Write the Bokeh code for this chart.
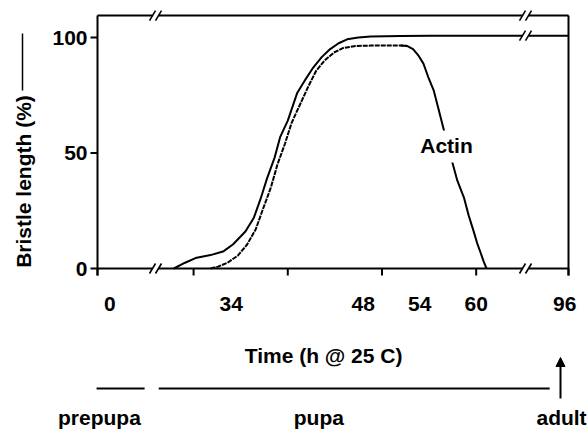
import numpy as np
from bokeh.plotting import figure
from bokeh.models import Arrow, NormalHead, Range1d
from bokeh.core.properties import value
from bokeh.embed import file_html
from bokeh.resources import INLINE

# ---------------- data (hours @ 25 C, % of final bristle length) ----------------
bristle_t = [27.9, 29.1, 30.2, 31.8, 33.2, 34.2, 35.5, 36.4, 37.1, 37.8, 38.6, 39.2,
             40.0, 41.0, 41.9, 42.7, 43.6, 44.5, 45.4, 46.3, 47.5, 48.8, 52.0, 55.2, 69.8]
bristle_v = [0, 2.5, 4.5, 5.8, 7.5, 10.5, 16, 22, 30, 39, 48, 57,
             64, 76, 82, 87, 91.5, 95, 97.5, 99.2, 100, 100.4, 100.7, 100.8, 100.8]

actin_t = [31.8, 32.6, 33.6, 34.7, 35.7, 36.6, 37.3, 38.2, 38.9, 39.7, 40.4, 41.3,
           42.2, 43.0, 43.9, 44.9, 45.9, 47.2, 48.8, 52.0, 52.7, 53.3, 53.9, 54.4,
           54.9, 55.5, 56.0, 56.5, 57.0, 57.5, 58.0, 58.7, 59.2, 59.7, 60.1, 60.5,
           60.8, 61.1]
actin_v = [0, 0.8, 2.5, 5.6, 10.5, 17, 25, 35, 45, 54, 63, 71,
           79, 85.5, 90, 93.5, 95.5, 96.3, 96.5, 96.5, 96.3, 95, 92, 88.7,
           83, 77, 69, 61, 53, 45.5, 38, 30.7, 23, 16.5, 11, 6.5,
           3, 0]

y_ticks = [0, 50, 100]
y_tick_labels = ["0", "50", "100"]
x_tick_labels = ["0", "34", "48", "54", "60", "96"]
x_tick_pos = [21.1, 34, 48, 54, 60, 69.4]
x_tick_marks = [19.8, 30, 40, 50, 60, 69.8]
stage_names = ["prepupa", "pupa", "adult"]
stage_pos = [20.0, 43.3, 69.06]
stage_spans = [(19.7, 24.8), (26.3, 67.8)]

# ---------------- layout constants ----------------
W, H = 587, 429
PXX = 9.42   # px per hour
PXY = 2.31   # px per percent
X0, X1 = 19.8, 69.8      # frame left / right (hours scale)
Y0, Y1 = 0.0, 109.5      # frame bottom / top (% scale)
LEFT_PX, BASE_PX = 97, 268
FONT = "Liberation Sans"
FS = "21px"

def hx(px):
    return X0 + (px - LEFT_PX) / PXX

def vy(py):
    return (BASE_PX - py) / PXY

p = figure(width=W, height=H,
           x_range=Range1d(hx(0), hx(W)), y_range=Range1d(vy(H), vy(0)),
           output_backend="svg", toolbar_location=None,
           x_axis_location=None, y_axis_location=None,
           min_border=0)
p.outline_line_color = None
p.grid.visible = False
p.background_fill_color = "white"
p.border_fill_color = "white"

txt = dict(text_font=value(FONT), text_font_size=FS, text_font_style="bold",
           text_color="black")

# frame (box) lines; left/right sides extend a tick length below the base line
tick_y = 7 / PXY
tick_x = 7 / PXX
p.segment(x0=[X0, X1, X0, X0], y0=[-tick_y, -tick_y, Y1, Y0],
          x1=[X0, X1, X1, X1], y1=[Y1, Y1, Y1, Y0],
          line_color="black", line_width=2)

# y ticks and labels
p.segment(x0=[X0 - tick_x] * len(y_ticks), y0=y_ticks,
          x1=[X0] * len(y_ticks), y1=y_ticks, line_color="black", line_width=2)
p.text(x=[X0 - tick_x - 3 / PXX] * len(y_ticks), y=y_ticks, text=y_tick_labels,
       text_align="right", text_baseline="middle", **txt)

# x tick marks and labels
p.segment(x0=x_tick_marks, y0=[0] * len(x_tick_marks),
          x1=x_tick_marks, y1=[-tick_y] * len(x_tick_marks),
          line_color="black", line_width=2)
p.text(x=x_tick_pos, y=[vy(303)] * len(x_tick_pos), text=x_tick_labels,
       text_align="center", text_baseline="middle", **txt)

# curves
p.line(bristle_t, bristle_v, line_color="black", line_width=2)
a_t = np.array(actin_t)
a_v = np.array(actin_v)
rise = a_t <= 52.7
fall = a_t >= 52.0
p.line(a_t[rise], a_v[rise], line_color="black", line_width=2, line_dash="5 1")
p.line(a_t[fall], a_v[fall], line_color="black", line_width=2)

# axis breaks "//"
def brk(cx, cy):
    gx = 3 / PXX
    sx, sy = 3 / PXX, 5 / PXY
    p.segment(x0=[cx - gx], y0=[cy], x1=[cx + gx], y1=[cy], line_color="white", line_width=5)
    p.segment(x0=[cx - gx - sx, cx + gx - sx], y0=[cy - sy, cy - sy],
              x1=[cx - gx + sx, cx + gx + sx], y1=[cy + sy, cy + sy],
              line_color="black", line_width=1.6)

for cx, cy in [(hx(155), Y1), (hx(155), Y0), (hx(525), Y1), (hx(525), 100.8), (hx(525), Y0)]:
    brk(cx, cy)

# curve label, breaking the curve where it sits
p.rect(x=[hx(447)], y=[vy(146)], width=56, height=32, width_units="screen",
       height_units="screen", fill_color="white", line_color=None)
p.text(x=[hx(446)], y=[vy(145)], text=["Actin"], text_align="center",
       text_baseline="middle", **txt)

# y axis title with its line sample
p.text(x=[hx(23)], y=[vy(181)], text=["Bristle length (%)"], angle=np.pi / 2,
       text_align="center", text_baseline="middle", **txt)
p.segment(x0=[hx(22)], y0=[vy(90)], x1=[hx(22)], y1=[vy(33)],
          line_color="black", line_width=1.5)

# x axis title
p.text(x=[hx(326)], y=[vy(355)], text=["Time (h  @ 25 C)"], text_align="center",
       text_baseline="middle", **txt)

# developmental stages
p.segment(x0=[s[0] for s in stage_spans], y0=[vy(388)] * len(stage_spans),
          x1=[s[1] for s in stage_spans], y1=[vy(388)] * len(stage_spans),
          line_color="black", line_width=2)
p.add_layout(Arrow(end=NormalHead(size=9, fill_color="black", line_color="black"),
                   x_start=hx(560), y_start=vy(398), x_end=hx(560), y_end=vy(357),
                   line_width=2, line_color="black"))
p.text(x=stage_pos, y=[vy(417)] * len(stage_pos), text=stage_names,
       text_align="center", text_baseline="middle", **txt)

open("out.html", "w").write(file_html(p, INLINE))
